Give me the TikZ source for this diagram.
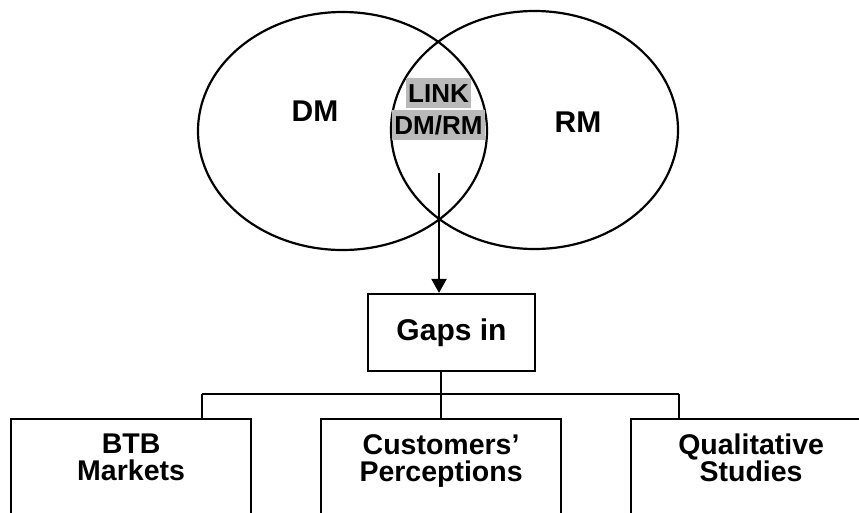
\documentclass[tikz,border=0pt]{standalone}
\usepackage{fontspec}
\setmainfont{Liberation Sans}
\usetikzlibrary{positioning,arrows.meta}

\begin{document}
\begin{tikzpicture}[x=1pt, y=-1pt, line width=2.2pt,
    box/.style={draw, line width=2.2pt, anchor=north west, inner sep=0pt,
        minimum width=240pt, minimum height=130pt},
    boxtext/.style={align=center, inner sep=0pt,
        font=\bfseries\fontsize{28.5}{27}\selectfont},
    bigtext/.style={inner sep=0pt, font=\bfseries\fontsize{30}{32}\selectfont},
    shaded/.style={fill=gray!55, inner xsep=2pt, inner ysep=5pt,
        text height=19pt, text depth=1pt,
        font=\bfseries\fontsize{26}{28}\selectfont}]

        \useasboundingbox (0,0) rectangle (859,512);
        \clip (0,0) rectangle (859,512);

        \coordinate (DMc) at (342.5,131);
        \coordinate (RMc) at (534.5,130);
        \coordinate (start) at (439,173);
        \coordinate (busL) at (202,394);
        \coordinate (busR) at (679,394);

        % the two circles
        \draw (DMc) ellipse [x radius=144.5, y radius=119];
        \draw (RMc) ellipse [x radius=143.5, y radius=119];

        \node[bigtext] (dm) at (315,111) {DM};
        \node[bigtext] (rm) at (578,122) {RM};
        \node[shaded] (link) at (438.5,93) {LINK};
        \node[shaded, below=0pt of link] (dmrm) {DM/RM};

        \node[draw, inner sep=0pt, minimum width=167pt, minimum height=77pt,
            font=\bfseries\fontsize{30}{32}\selectfont] (gaps) at (451.5,332.5) {Gaps in};

        \node[box] (btb) at (10,418) {};
        \node[box] (cust) at (320,418) {};
        \node[box] (qual) at (630,418) {};

        \node[boxtext, below=15pt of btb.north] {BTB\\Markets};
        \node[boxtext, below=15pt of cust.north] {Customers’\\Perceptions};
        \node[boxtext, below=15pt of qual.north] {Qualitative\\Studies};

        \draw[-{Triangle[length=14pt, width=15pt]}] (start) -- (start |- gaps.north);

        \draw (cust.north |- gaps.south) -- (cust.north);
        \draw (busL) -- (busR);
        \draw (busL) -- (busL |- btb.north);
        \draw (busR) -- (busR |- qual.north);

    \end{tikzpicture}
\end{document}
